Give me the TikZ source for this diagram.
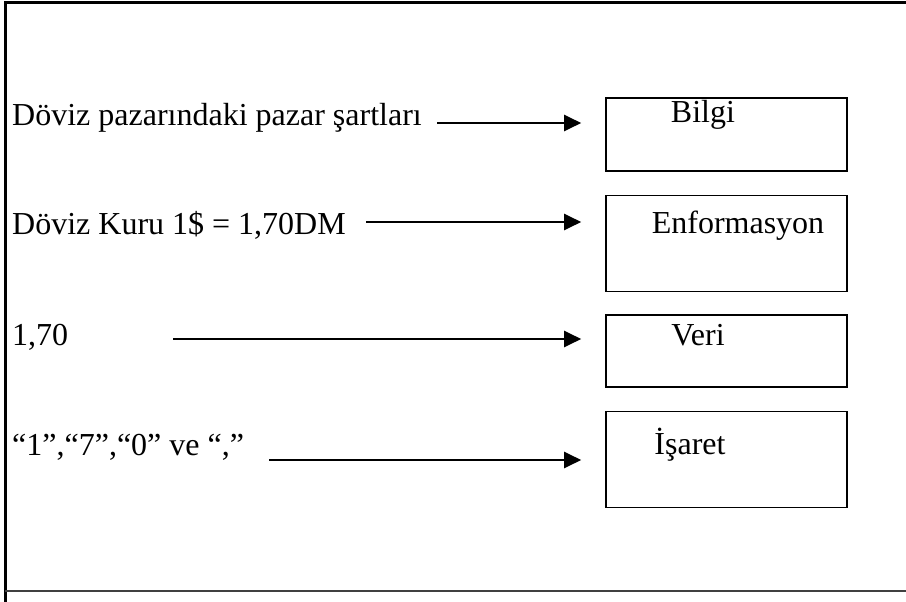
\documentclass[tikz,border=0pt]{standalone}
\usepackage{fontspec}
\setmainfont{Liberation Serif}
\usetikzlibrary{arrows.meta}
\begin{document}
\begin{tikzpicture}[x=1pt,y=-1pt,
  lbl/.style={anchor=base west,inner sep=0pt,font=\fontsize{32}{38}\selectfont},
  boxlbl/.style={anchor=base,inner sep=0pt,font=\fontsize{32}{38}\selectfont},
  stbox/.style={draw,line width=1.6pt,inner sep=0pt},
  conn/.style={line width=2.2pt,-{Triangle[length=17pt,width=16pt]},shorten >=24pt},
  frameline/.style={line width=3pt}]
\useasboundingbox (0,0) rectangle (906,602);
% frame
\draw[frameline] (906,3) -- (5,3) -- (5,602);
\draw[line width=2.5pt,black!75] (5,591) -- (906,591);
% boxes
\node[stbox,minimum width=241pt,minimum height=73pt] (b1) at (726.5,134.5) {};
\node[stbox,minimum width=241pt,minimum height=96pt] (b2) at (726.5,243.5) {};
\node[stbox,minimum width=241pt,minimum height=72pt] (b3) at (726.5,351) {};
\node[stbox,minimum width=241pt,minimum height=96pt] (b4) at (726.5,459.5) {};
% box labels
\node[boxlbl] (t1) at (703,123) {Bilgi};
\node[boxlbl] (t2) at (738,233) {Enformasyon};
\node[boxlbl] (t3) at (698,345) {Veri};
\node[boxlbl] (t4) at (690,454) {İşaret};
% left texts
\node[lbl] (l1) at (12,125) {Döviz pazarındaki pazar şartları};
\node[lbl] (l2) at (12,234) {Döviz Kuru 1\$ = 1,70DM};
\node[lbl] (l3) at (12,345) {1,70};
\node[lbl] (l4) at (12,455) {“1”,“7”,“0” ve “,”};
% arrow starts
\coordinate (s1) at (437,123);
\coordinate (s2) at (366,222);
\coordinate (s3) at (173,339);
\coordinate (s4) at (269,460);
\draw[conn] (s1) -- (s1 -| b1.west);
\draw[conn] (s2) -- (s2 -| b2.west);
\draw[conn] (s3) -- (s3 -| b3.west);
\draw[conn] (s4) -- (s4 -| b4.west);
\end{tikzpicture}
\end{document}
